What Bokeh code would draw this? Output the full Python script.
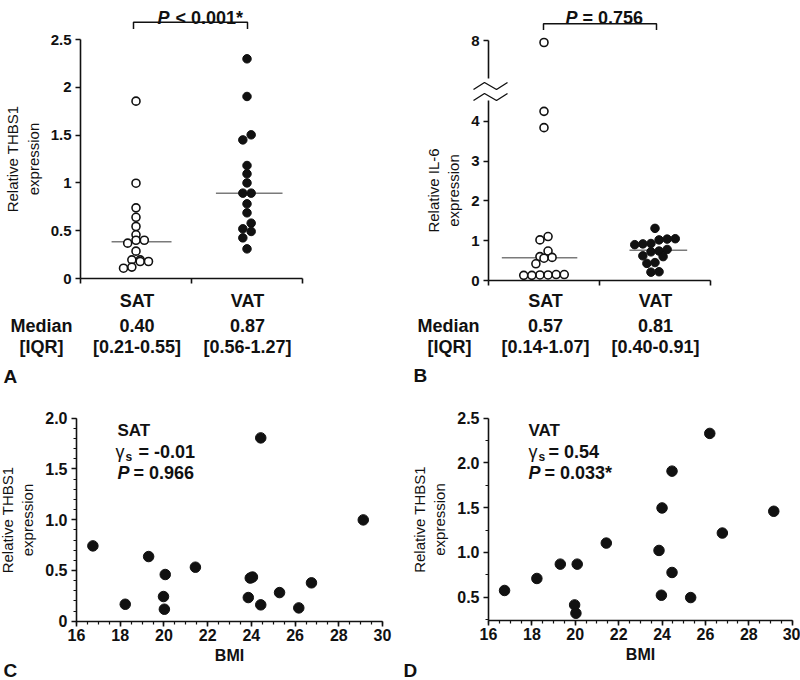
import numpy as np
from bokeh.plotting import figure
from bokeh.models import Label, FixedTicker, SingleIntervalTicker, Range1d, LinearAxis
from bokeh.layouts import column, row
from bokeh.embed import file_html
from bokeh.resources import INLINE

FONT = "Liberation Sans"
INK = "#111111"

# ---------------- data ----------------
groups = ["SAT", "VAT"]

# Panel A: relative THBS1 expression
a_sat = [1.855, 0.997, 0.739, 0.640, 0.544, 0.457, 0.400, 0.400, 0.370, 0.286,
         0.195, 0.195, 0.178, 0.178, 0.119, 0.108]
a_vat = [2.298, 1.904, 1.503, 1.450, 1.182, 1.095, 1.000, 0.893, 0.893, 0.781,
         0.687, 0.579, 0.520, 0.492, 0.425, 0.310]
a_medians = ["0.40", "0.87"]
a_iqrs = ["[0.21-0.55]", "[0.56-1.27]"]
a_p = "< 0.001*"
a_yticks = [0, 0.5, 1, 1.5, 2, 2.5]
a_ylabels = ["0", "0.5", "1", "1.5", "2", "2.5"]

# Panel B: relative IL-6 expression (broken axis)
b_sat = [7.95, 4.25, 3.84, 1.105, 1.02, 0.74, 0.60, 0.58, 0.56, 0.42,
         0.15, 0.15, 0.14, 0.14, 0.13, 0.13]
b_vat = [1.31, 1.05, 1.04, 1.02, 0.93, 0.92, 0.90, 0.78, 0.74, 0.72,
         0.62, 0.60, 0.45, 0.43, 0.22, 0.21]
b_medians = ["0.57", "0.81"]
b_iqrs = ["[0.14-1.07]", "[0.40-0.91]"]
b_p = "= 0.756"
b_yticks = [0, 1, 2, 3, 4]
b_top_tick = 8

# Panel C: SAT THBS1 vs BMI
c_bmi = [16.75, 18.23, 19.30, 20.06, 19.98, 20.02, 21.44, 23.86, 23.95, 24.05,
         24.43, 24.43, 25.29, 26.17, 26.75, 29.12]
c_thbs1 = [0.742, 0.167, 0.637, 0.460, 0.243, 0.118, 0.532, 0.233, 0.425, 0.435,
           1.806, 0.161, 0.282, 0.131, 0.378, 0.998]
c_stats = ["SAT", "= -0.01", "= 0.966"]

# Panel D: VAT THBS1 vs BMI
d_bmi = [16.74, 18.23, 19.31, 20.09, 19.97, 20.03, 21.43, 23.86, 24.00, 23.97,
         24.46, 24.46, 25.32, 26.20, 26.78, 29.15]
d_thbs1 = [0.575, 0.709, 0.869, 0.869, 0.414, 0.321, 1.104, 1.022, 1.496, 0.522,
           1.907, 0.776, 0.496, 2.328, 1.216, 1.459]
d_stats = ["VAT", "= 0.54", "= 0.033*"]
bmi_ticks_step = 2


# ---------------- helpers ----------------
def make_fig(box, ox, kx, oy, ky):
    """Figure whose frame covers the whole panel; page px = ox + kx*x, py = oy - ky*y."""
    L, T, W, H = box
    p = figure(width=W, height=H,
               x_range=Range1d((L - ox) / kx, (L + W - ox) / kx),
               y_range=Range1d((oy - (T + H)) / ky, (oy - T) / ky),
               min_border=0, x_axis_location=None, y_axis_location=None,
               output_backend="svg", toolbar_location=None)
    p.outline_line_color = None
    p.xgrid.grid_line_color = None
    p.ygrid.grid_line_color = None
    p.background_fill_color = "white"
    p.border_fill_color = "white"
    fx = lambda px: (px - ox) / kx
    fy = lambda py: (oy - py) / ky
    return p, fx, fy


def add_axis(p, side, loc, bounds, ticker, overrides=None, label=None, label_bold=False,
             label_size="15px", standoff=4, tick_size="15px", label_standoff=6):
    ax = LinearAxis(fixed_location=loc, bounds=bounds, ticker=ticker)
    ax.axis_line_color = INK
    ax.axis_line_width = 1.6
    ax.major_tick_line_color = INK
    ax.major_tick_line_width = 1.6
    ax.minor_tick_line_color = INK
    ax.minor_tick_line_width = 1.2
    ax.major_tick_out = 5
    ax.major_tick_in = 0
    ax.minor_tick_out = 3
    ax.minor_tick_in = 0
    ax.major_label_text_font = FONT
    ax.major_label_text_font_style = "bold"
    ax.major_label_text_font_size = tick_size
    ax.major_label_text_color = INK
    ax.major_label_standoff = standoff
    if overrides:
        ax.major_label_overrides = overrides
    if label:
        ax.axis_label = label
        ax.axis_label_text_font = FONT
        ax.axis_label_text_font_style = "bold" if label_bold else "normal"
        ax.axis_label_text_font_size = label_size
        ax.axis_label_text_color = INK
        ax.axis_label_standoff = label_standoff
    p.add_layout(ax, side)
    return ax


def swarm(vals, unit_px, diam_px, step):
    """Centre points of similar value side by side (dot-plot layout)."""
    v = np.asarray(vals, dtype=float)
    order = np.argsort(v, kind="stable")
    sv = v[order]
    grp, cur = [], [0]
    for i in range(1, len(sv)):
        if (sv[i] - sv[cur[0]]) * unit_px < 0.85 * diam_px:
            cur.append(i)
        else:
            grp.append(cur)
            cur = [i]
    grp.append(cur)
    offs = np.zeros(len(sv))
    for g in grp:
        n = len(g)
        for k, i in enumerate(g):
            offs[i] = (k - (n - 1) / 2) * step
    out = np.zeros(len(sv))
    out[order] = offs
    return out


def lab(p, x, y, text, size="18px", style="bold", align="center", baseline="middle"):
    p.add_layout(Label(x=x, y=y, text=text, text_font=FONT, text_font_size=size,
                       text_font_style=style, text_align=align, text_baseline=baseline,
                       text_color=INK))


def dot_panel(p, sat, vat, ytrans, unit_px, step, hw):
    for i, vals in enumerate([sat, vat]):
        yt = [ytrans(v) for v in vals]
        c = i + 0.5
        xs = c + swarm(yt, unit_px, 8, step)
        med = ytrans(float(np.median(vals)))
        p.segment(x0=[c - hw[i][0]], y0=[med], x1=[c + hw[i][1]], y1=[med],
                  line_color="#7a7a7a", line_width=1.5)
        if i == 0:
            p.scatter(xs, yt, size=8, marker="circle", fill_color="white",
                      line_color=INK, line_width=1.6)
        else:
            p.scatter(xs, yt, size=8.5, marker="circle", fill_color=INK,
                      line_color=INK, line_width=1)


def group_axis(p):
    # category axis: boundary ticks at 0, 1, 2 (group names are written under it)
    ax = add_axis(p, "below", 0, (0, 2), FixedTicker(ticks=[], minor_ticks=[0, 1, 2]))
    ax.minor_tick_out = 5
    ax.minor_tick_line_width = 1.6


# ---------------- Panel A ----------------
pA, ax_, ay_ = make_fig((0, 0, 400, 408), 80.0, 111.0, 278.0, 95.6)
add_axis(pA, "left", 0, (a_yticks[0], a_yticks[-1]), FixedTicker(ticks=a_yticks),
         overrides={t: s for t, s in zip(a_yticks, a_ylabels)},
         label="Relative THBS1\nexpression")
group_axis(pA)
dot_panel(pA, a_sat, a_vat, lambda v: v, 95.6, 0.075, [(0.22, 0.32), (0.28, 0.32)])
pA.multi_line(xs=[[ax_(133), ax_(133), ax_(247), ax_(247)]],
              ys=[[ay_(28.5), ay_(21.7), ay_(21.7), ay_(28.5)]], line_color=INK, line_width=1.5)
lab(pA, ax_(157), ay_(17), "P", style="bold italic", align="left", baseline="alphabetic")
lab(pA, ax_(175), ay_(17), a_p, align="left", baseline="alphabetic")
for i, g in enumerate(groups):
    cx = [136.5, 247][i]
    lab(pA, ax_(cx), ay_(300), g)
    lab(pA, ax_(cx), ay_(325), a_medians[i])
    lab(pA, ax_(cx), ay_(346), a_iqrs[i])
lab(pA, ax_(41), ay_(325), "Median")
lab(pA, ax_(41), ay_(346), "[IQR]")
lab(pA, ax_(3), ay_(376), "A", size="19px", align="left")

# ---------------- Panel B ----------------
B_UY = 39.8
B_SHIFT = 1.97          # compresses the broken part of the axis
pB, bx_, by_ = make_fig((400, 0, 400, 408), 488.0, 111.0, 280.0, B_UY)
def btrans(v): return v if v < 5 else v - B_SHIFT
gap_lo, gap_hi = by_(100), by_(78)
t8 = btrans(b_top_tick)
add_axis(pB, "left", 0, (0, gap_lo), FixedTicker(ticks=b_yticks),
         label="Relative IL-6\nexpression")
add_axis(pB, "left", 0, (gap_hi, t8), FixedTicker(ticks=[t8]),
         overrides={t8: str(b_top_tick)})
group_axis(pB)
# break marks
for yy in (86.0, 97.0):
    pts = [(473, yy + 3), (484, yy - 4), (496, yy + 3), (507, yy - 4)]
    pB.line([bx_(x) for x, _ in pts], [by_(y) for _, y in pts], line_color=INK, line_width=1.4)
dot_panel(pB, b_sat, b_vat, btrans, B_UY, 0.073, [(0.38, 0.30), (0.23, 0.29)])
pB.multi_line(xs=[[bx_(543), bx_(543), bx_(656), bx_(656)]],
              ys=[[by_(29.5), by_(23.3), by_(23.3), by_(29.5)]], line_color=INK, line_width=1.5)
lab(pB, bx_(565), by_(17), "P", style="bold italic", align="left", baseline="alphabetic")
lab(pB, bx_(582), by_(17), b_p, align="left", baseline="alphabetic")
for i, g in enumerate(groups):
    cx = [545, 655][i]
    lab(pB, bx_(cx), by_(300), g)
    lab(pB, bx_(cx), by_(325), b_medians[i])
    lab(pB, bx_(cx), by_(346), b_iqrs[i])
lab(pB, bx_(448), by_(325), "Median")
lab(pB, bx_(449), by_(346), "[IQR]")
lab(pB, bx_(413), by_(375), "B", size="19px", align="left")

# ---------------- Panel C ----------------
C_KX = (382.0 - 76.0) / 14
pC, cx_, cy_ = make_fig((0, 408, 400, 272), 76.0 - 16 * C_KX, C_KX, 620.7, 101.5)
add_axis(pC, "below", 0, (16, 30), SingleIntervalTicker(interval=bmi_ticks_step, num_minor_ticks=4),
         label="BMI", label_bold=True, label_size="16px", standoff=3, tick_size="16px",
         label_standoff=2)
add_axis(pC, "left", 16, (0, 2), SingleIntervalTicker(interval=0.5, num_minor_ticks=5),
         overrides={0: "0", 0.5: "0.5", 1: "1.0", 1.5: "1.5", 2: "2.0"},
         label="Relative THBS1\nexpression", tick_size="16px")
pC.scatter(c_bmi, c_thbs1, size=10.5, marker="circle", fill_color=INK, line_color=INK)
lab(pC, cx_(117), cy_(430), c_stats[0], size="17px", align="left")
lab(pC, cx_(115), cy_(451), "\u03b3", style="normal", align="left")
lab(pC, cx_(125), cy_(456), "s", size="12px", align="left")
lab(pC, cx_(138), cy_(451), c_stats[1], align="left")
lab(pC, cx_(117), cy_(472), "P", style="bold italic", align="left")
lab(pC, cx_(133), cy_(472), c_stats[2], align="left")
lab(pC, cx_(3), cy_(670), "C", size="19px", align="left")

# ---------------- Panel D ----------------
D_KX = (791.7 - 488.0) / 14
pD, dx_, dy_ = make_fig((400, 408, 400, 272), 488.0 - 16 * D_KX, D_KX, 641.5, 89.6)
add_axis(pD, "below", 0.24, (16, 30), SingleIntervalTicker(interval=bmi_ticks_step, num_minor_ticks=4),
         label="BMI", label_bold=True, label_size="16px", standoff=3, tick_size="16px",
         label_standoff=2)
add_axis(pD, "left", 16, (0.24, 2.5),
         FixedTicker(ticks=[0.5, 1, 1.5, 2, 2.5], minor_ticks=[0.25, 0.75, 1.25, 1.75, 2.25]),
         overrides={0.5: "0.5", 1: "1.0", 1.5: "1.5", 2: "2.0", 2.5: "2.5"},
         label="Relative THBS1\nexpression", tick_size="16px")
pD.scatter(d_bmi, d_thbs1, size=10.5, marker="circle", fill_color=INK, line_color=INK)
lab(pD, dx_(528), dy_(430), d_stats[0], size="17px", align="left")
lab(pD, dx_(528), dy_(451), "\u03b3", style="normal", align="left")
lab(pD, dx_(538), dy_(456), "s", size="12px", align="left")
lab(pD, dx_(548), dy_(451), d_stats[1], align="left")
lab(pD, dx_(528), dy_(472), "P", style="bold italic", align="left")
lab(pD, dx_(544), dy_(472), d_stats[2], align="left")
lab(pD, dx_(403), dy_(670), "D", size="19px", align="left")

layout = column(row(pA, pB), row(pC, pD))
open("out.html", "w").write(file_html(layout, INLINE))
